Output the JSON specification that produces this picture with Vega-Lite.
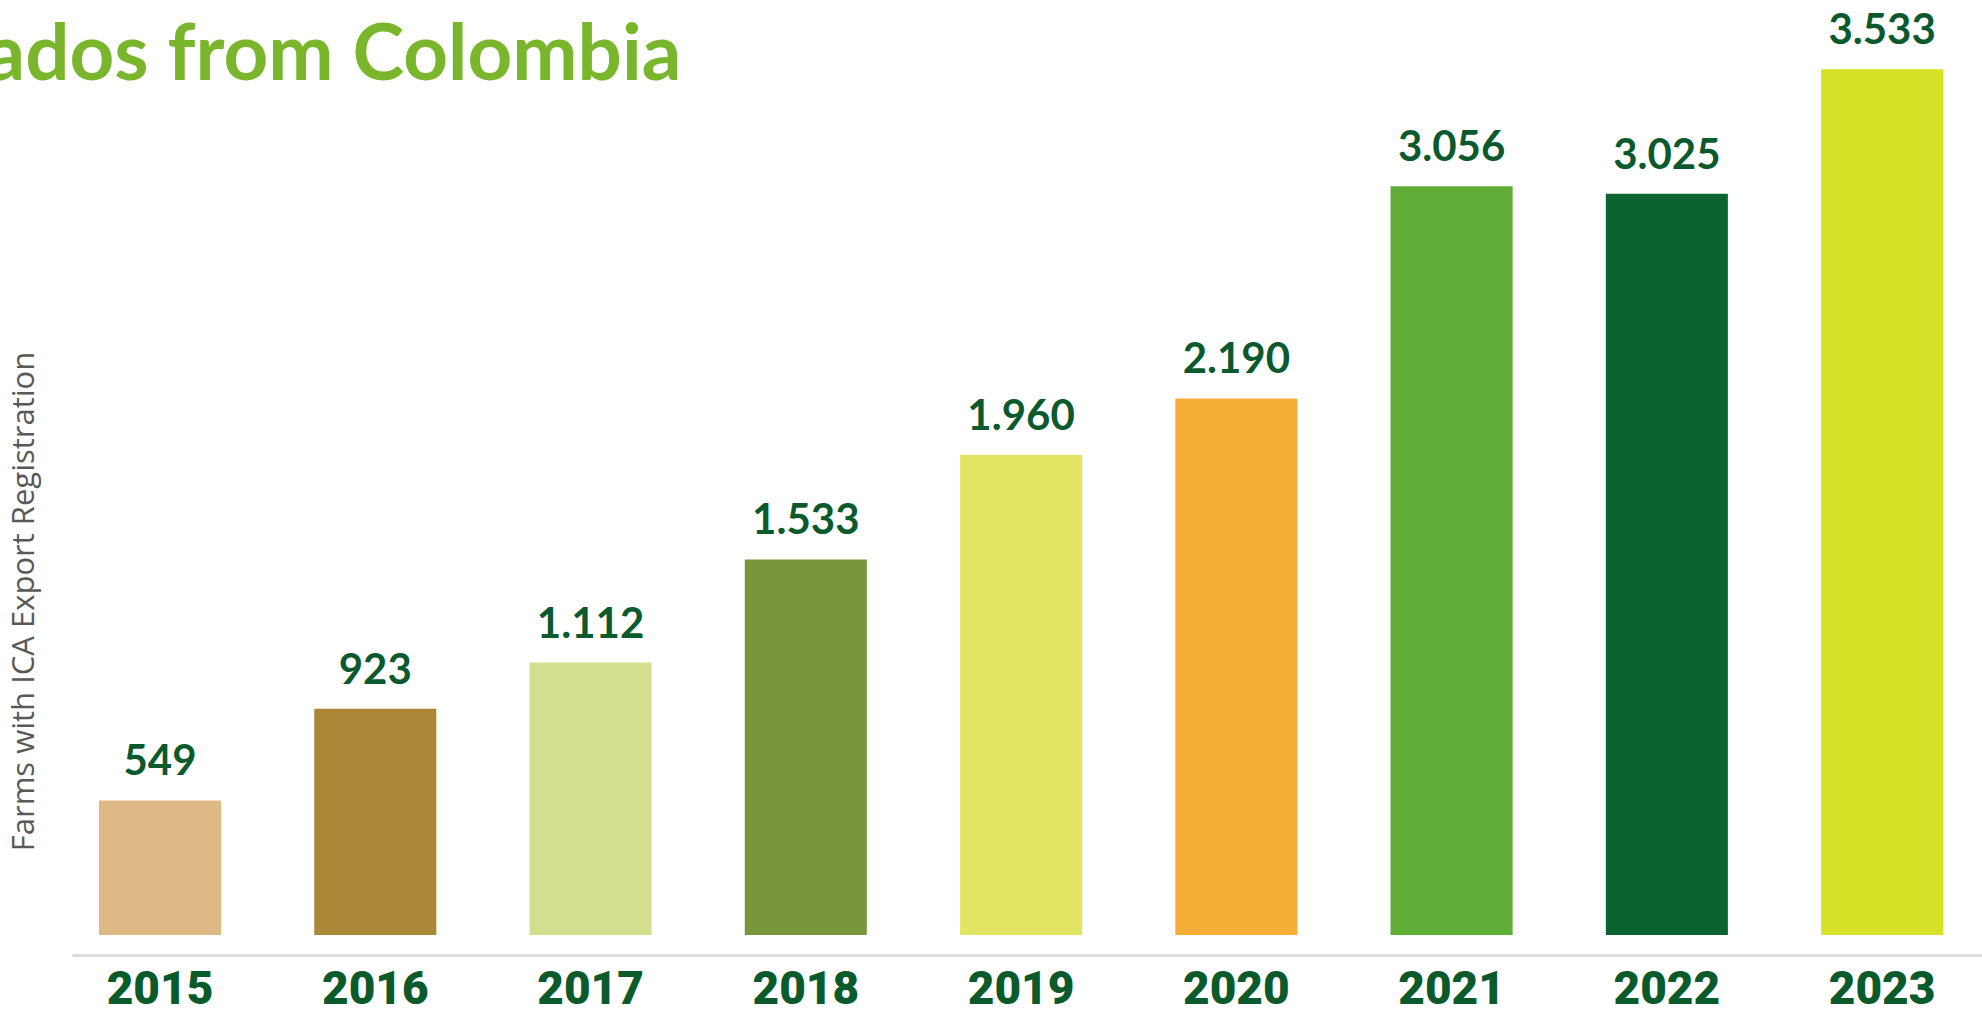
{
  "$schema": "https://vega.github.io/schema/vega-lite/v6.json",
  "width": 1910,
  "height": 935,
  "autosize": {"type": "none"},
  "padding": {"left": 72, "top": 0, "right": 0, "bottom": 79},
  "background": "white",
  "title": {
    "text": "cados from Colombia",
    "anchor": "start",
    "frame": "group",
    "orient": "top",
    "offset": -82,
    "baseline": "alphabetic",
    "dx": -124,
    "dy": 76,
    "font": "Lato",
    "fontSize": 78,
    "fontWeight": 700,
    "color": "#7ab62b"
  },
  "data": {
    "values": [
      {"year": "2015", "farms": 549},
      {"year": "2016", "farms": 923},
      {"year": "2017", "farms": 1112},
      {"year": "2018", "farms": 1533},
      {"year": "2019", "farms": 1960},
      {"year": "2020", "farms": 2190},
      {"year": "2021", "farms": 3056},
      {"year": "2022", "farms": 3025},
      {"year": "2023", "farms": 3533}
    ]
  },
  "encoding": {
    "x": {
      "field": "year",
      "type": "ordinal",
      "sort": null,
      "scale": {"paddingInner": 0.433, "paddingOuter": 0.153, "align": 0.41},
      "axis": {
        "title": null,
        "orient": "bottom",
        "offset": 20,
        "domainColor": "#dcdcdc",
        "domainWidth": 3,
        "ticks": false,
        "tickSize": 0,
        "labelPadding": 48,
        "labelBaseline": "alphabetic",
        "labelAngle": 0,
        "labelFont": "Roboto",
        "labelFontWeight": 900,
        "labelFontSize": 46,
        "labelColor": "#0b5a2b",
        "grid": false
      }
    },
    "y": {
      "field": "farms",
      "type": "quantitative",
      "scale": {"domain": [0, 3816], "nice": false},
      "axis": {
        "title": "Farms with ICA Export Registration",
        "domain": false,
        "ticks": false,
        "labels": false,
        "grid": false,
        "titleFont": "Open Sans",
        "titleFontSize": 31,
        "titleFontWeight": "normal",
        "titleColor": "#595959",
        "titleAngle": -90,
        "titleAlign": "center",
        "titleBaseline": "middle",
        "titleX": -48,
        "titleY": 601
      }
    }
  },
  "layer": [
    {
      "mark": {"type": "bar"},
      "encoding": {
        "color": {
          "field": "year",
          "type": "nominal",
          "sort": null,
          "legend": null,
          "scale": {
            "domain": ["2015", "2016", "2017", "2018", "2019", "2020", "2021", "2022", "2023"],
            "range": ["#dfb985", "#ab8838", "#d3df8f", "#7a963a", "#e1e563", "#f7ae38", "#5fad36", "#0b6430", "#d6e228"]
          }
        }
      }
    },
    {
      "mark": {
        "type": "text",
        "baseline": "alphabetic",
        "dy": -25,
        "font": "Lato",
        "fontWeight": 700,
        "fontSize": 42,
        "color": "#0b5a2e"
      },
      "encoding": {
        "text": {"field": "farms", "type": "quantitative", "format": ",d"}
      }
    }
  ],
  "config": {
    "view": {"stroke": null},
    "locale": {
      "number": {
        "decimal": ",",
        "thousands": ".",
        "grouping": [3],
        "currency": ["", " €"]
      }
    }
  }
}
